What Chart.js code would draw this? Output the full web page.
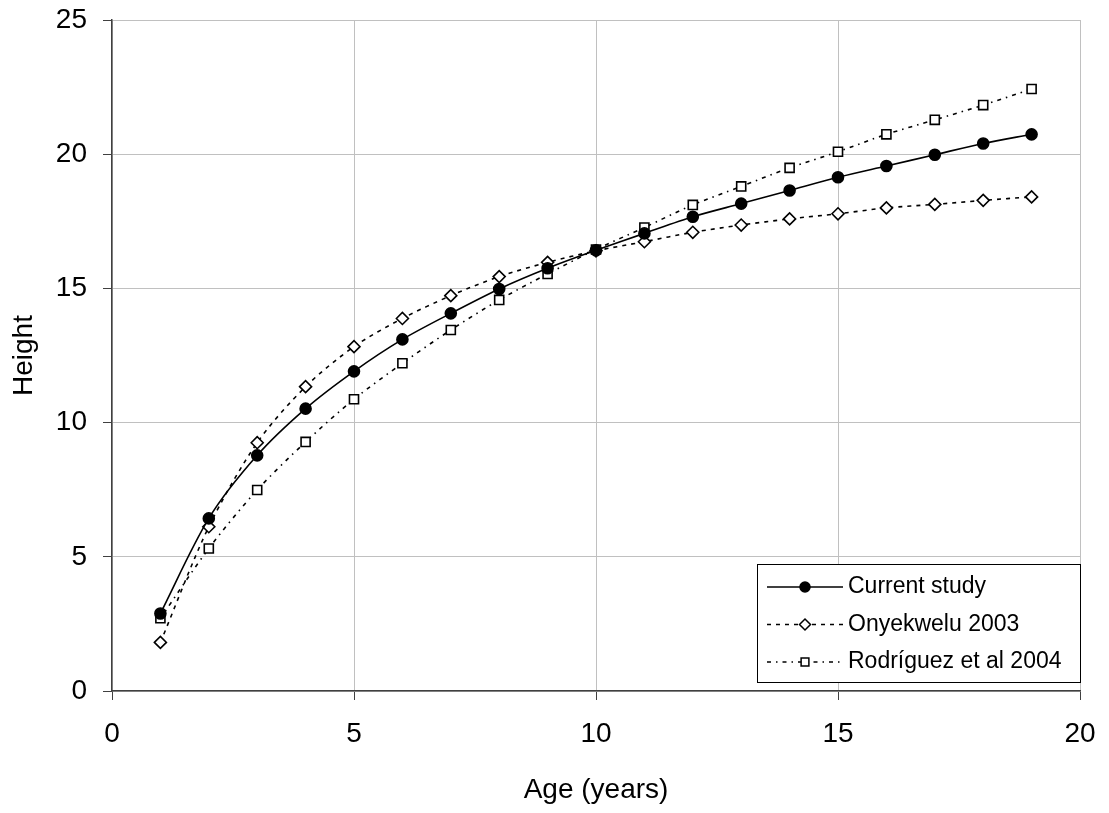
<!DOCTYPE html>
<html>
<head>
<meta charset="utf-8">
<script src="https://cdn.jsdelivr.net/npm/chart.js@4.4.0/dist/chart.umd.min.js"></script>
<style>
  body { margin: 0; background: #fff; }
  #wrap { width: 1109px; height: 813px; }
</style>
</head>
<body>
<div id="wrap"><canvas id="alturaChart" width="1109" height="813"></canvas></div>
<script>
// datos
const edades = [1, 2, 3, 4, 5, 6, 7, 8, 9, 10, 11, 12, 13, 14, 15, 16, 17, 18, 19];
const actual = [2.89, 6.43, 8.78, 10.52, 11.91, 13.10, 14.07, 14.98, 15.75, 16.42, 17.05, 17.67, 18.16, 18.65, 19.14, 19.56, 19.98, 20.40, 20.74];
const onyekwelu = [1.81, 6.12, 9.25, 11.34, 12.83, 13.88, 14.73, 15.44, 15.97, 16.40, 16.74, 17.09, 17.36, 17.59, 17.78, 18.00, 18.13, 18.28, 18.41];
const rodriguez = [2.71, 5.31, 7.49, 9.28, 10.87, 12.21, 13.45, 14.57, 15.54, 16.45, 17.27, 18.11, 18.80, 19.49, 20.09, 20.74, 21.28, 21.83, 22.43];
const etiquetas = ['Current study', 'Onyekwelu 2003', 'Rodríguez et al 2004'];

const fuente = '"Liberation Sans", Arial, sans-serif';

function puntos(valores) {
    return edades.map((x, i) => ({ x: x, y: valores[i] }));
}

// leyenda dibujada dentro del area del grafico
const leyendaPlugin = {
    id: 'leyendaDentro',
    afterDraw(chart) {
        const ctx = chart.ctx;
        const x0 = 757, y0 = 564, w = 323, h = 118;
        ctx.save();
        ctx.fillStyle = '#fff';
        ctx.fillRect(x0, y0, w, h);
        ctx.strokeStyle = '#000';
        ctx.lineWidth = 1;
        ctx.strokeRect(x0 + 0.5, y0 + 0.5, w, h);
        chart.data.datasets.forEach((ds, i) => {
            const cy = y0 + 23 + i * 37.5;
            ctx.beginPath();
            ctx.setLineDash(ds.borderDash || []);
            ctx.strokeStyle = '#000';
            ctx.lineWidth = ds.borderWidth;
            ctx.moveTo(x0 + 10, cy);
            ctx.lineTo(x0 + 86, cy);
            ctx.stroke();
            ctx.setLineDash([]);
            ctx.fillStyle = ds.pointBackgroundColor;
            ctx.strokeStyle = '#000';
            ctx.lineWidth = 1.5;
            Chart.helpers.drawPoint(ctx, {
                pointStyle: ds.pointStyle,
                rotation: 0,
                radius: ds.pointStyle === 'circle' ? 5 : 5.5,
                borderWidth: 1.5
            }, x0 + 48, cy);
            ctx.fillStyle = '#000';
            ctx.font = '23px ' + fuente;
            ctx.textBaseline = 'middle';
            ctx.textAlign = 'left';
            ctx.fillText(ds.label, x0 + 91, cy);
        });
        ctx.restore();
    }
};

const ctx = document.getElementById('alturaChart').getContext('2d');
new Chart(ctx, {
    type: 'line',
    data: {
        datasets: [{
            label: etiquetas[0],
            data: puntos(actual),
            borderColor: '#000',
            borderWidth: 1.6,
            pointStyle: 'circle',
            pointRadius: 5.5,
            pointBackgroundColor: '#000',
            pointBorderColor: '#000',
            tension: 0.3
        }, {
            label: etiquetas[1],
            data: puntos(onyekwelu),
            borderColor: '#000',
            borderWidth: 1.6,
            borderDash: [4, 5],
            pointStyle: 'rectRot',
            pointRadius: 6,
            pointBorderWidth: 1.6,
            pointBackgroundColor: '#fff',
            pointBorderColor: '#000',
            tension: 0.3
        }, {
            label: etiquetas[2],
            data: puntos(rodriguez),
            borderColor: '#000',
            borderWidth: 1.6,
            borderDash: [4, 5, 1.5, 5],
            pointStyle: 'rect',
            pointRadius: 6.4,
            pointBorderWidth: 1.6,
            pointBackgroundColor: '#fff',
            pointBorderColor: '#000',
            tension: 0.3
        }]
    },
    options: {
        responsive: false,
        animation: false,
        layout: { padding: { left: 0, top: 20, right: 29, bottom: 0 } },
        plugins: {
            legend: { display: false },
            tooltip: { enabled: false }
        },
        scales: {
            x: {
                type: 'linear',
                min: 0,
                max: 20,
                ticks: { stepSize: 5, color: '#000', font: { family: fuente, size: 28 }, padding: 17 },
                grid: { color: '#c0c0c0', tickColor: '#404040', tickLength: 9 },
                border: { color: '#404040', width: 1.5 },
                title: { display: true, text: 'Age (years)', color: '#000', font: { family: fuente, size: 28 }, padding: { top: 0, bottom: 6 } },
                afterFit(scale) {
                    scale.height = 122;
                    scale.paddingLeft = 0;
                    scale.paddingRight = 0;
                }
            },
            y: {
                min: 0,
                max: 25,
                ticks: { stepSize: 5, color: '#000', font: { family: fuente, size: 28 }, padding: 16 },
                grid: { color: '#c0c0c0', tickColor: '#404040', tickLength: 9 },
                border: { color: '#404040', width: 1.5 },
                title: { display: true, text: 'Height', color: '#000', font: { family: fuente, size: 28 }, padding: { top: 7 } },
                afterFit(scale) {
                    scale.width = 112;
                    scale.paddingTop = 0;
                    scale.paddingBottom = 0;
                }
            }
        }
    },
    plugins: [leyendaPlugin]
});
</script>
</body>
</html>
